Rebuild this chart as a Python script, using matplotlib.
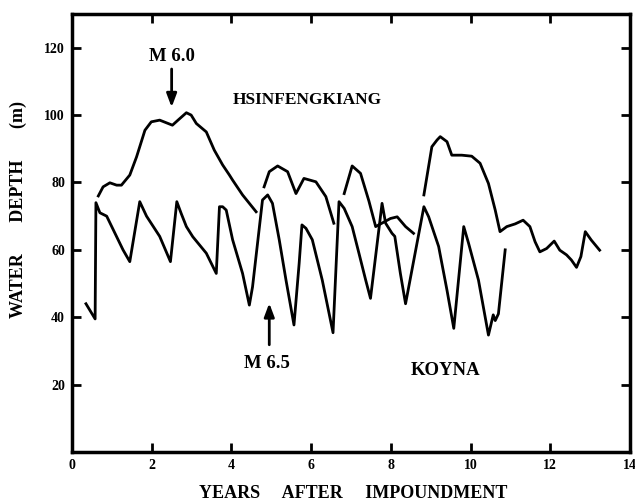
import numpy as np
import matplotlib
matplotlib.use('Agg')
import matplotlib.pyplot as plt

# Koyna reservoir water depth (m) vs years after impoundment
koyna_x = [0.35, 0.58, 0.60, 0.70, 0.87, 1.12, 1.28, 1.45, 1.70, 1.87, 2.20, 2.47,
           2.63, 2.74, 2.87, 3.03, 3.37, 3.62, 3.70, 3.78, 3.87, 4.03, 4.28, 4.45,
           4.53, 4.78, 4.91, 5.03, 5.20, 5.37, 5.57, 5.70, 5.77, 5.87, 6.03, 6.28,
           6.55, 6.70, 6.83, 7.03, 7.20, 7.37, 7.49, 7.78, 7.87, 8.03, 8.10, 8.24,
           8.37, 8.83, 8.95, 9.20, 9.41, 9.58, 9.83, 9.95, 10.20, 10.45, 10.57,
           10.62, 10.70, 10.87]
koyna_y = [44, 39.5, 74, 71, 70, 63.9, 60, 56.5, 74.3, 70, 64, 56.5,
           74.3, 70.8, 66.9, 63.9, 59, 53, 72.8, 72.8, 71.8, 63, 53, 43.6,
           49, 74.8, 76.3, 73.8, 63, 51, 37.7, 56, 67.4, 66.4, 63, 51,
           35.4, 74.3, 72.3, 66.9, 59, 51, 45.6, 73.8, 67.9, 64.9, 64, 53,
           44, 72.8, 69.8, 61, 48, 36.7, 66.9, 62, 51, 34.7, 40.7,
           39, 41, 60]

# Hsinfengkiang reservoir, nan marks the gaps in the record
hsin_x = [0.66, 0.78, 0.95, 1.12, 1.24, 1.45, 1.62, 1.83, 1.99, 2.20, 2.52, 2.66,
          2.87, 2.99, 3.12, 3.37, 3.57, 3.78, 3.95, 4.03, 4.28, 4.62, np.nan,
          4.82, 4.95, 5.16, 5.41, 5.62, 5.82, 6.12, 6.37, 6.57, np.nan,
          6.83, 7.03, 7.24, 7.45, 7.62, 7.99, 8.16, 8.37, 8.57, np.nan,
          8.83, 9.03, 9.16, 9.24, 9.41, 9.53, 9.78, 10.03, 10.24, 10.45, 10.62,
          10.74, 10.91, 11.12, 11.32, 11.49, 11.62, 11.74, 11.91, 12.10, 12.24,
          12.41, 12.53, 12.66, 12.77, 12.88, 13.03, 13.24]
hsin_y = [76, 78.7, 79.9, 79.2, 79.2, 82.2, 87.6, 95.5, 98, 98.5, 97, 98.5,
          100.7, 100, 97.5, 95, 89.6, 85.2, 82.2, 80.7, 76.3, 71.3, np.nan,
          78.7, 83.2, 84.9, 83.2, 76.7, 81.2, 80.2, 75.8, 67.9, np.nan,
          76.7, 84.9, 82.7, 74.5, 66.9, 69.3, 69.8, 66.9, 64.9, np.nan,
          76.3, 90.6, 92.6, 93.6, 92.1, 88.1, 88.1, 87.8, 85.7, 79.7, 71.8,
          65.4, 66.9, 67.7, 68.8, 66.9, 62.4, 59.4, 60.4, 62.6, 59.9,
          58.5, 57, 54.8, 58, 65.4, 62.9, 59.9]

xticks = [0, 2, 4, 6, 8, 10, 12, 14]
yticks = [20, 40, 60, 80, 100, 120]

plt.rcParams['font.family'] = ['Liberation Serif', 'DejaVu Serif']
plt.rcParams['font.weight'] = 'bold'

fig = plt.figure(figsize=(6.35, 5.04), dpi=100)
ax = fig.add_axes([0.1134, 0.1032, 0.8786, 0.8690])

ax.plot(koyna_x, koyna_y, color='black', lw=2.0, solid_joinstyle='round')
ax.plot(hsin_x, hsin_y, color='black', lw=2.0, solid_joinstyle='round')

ax.set_xlim(0, 14)
ax.set_ylim(0, 130)
ax.set_xticks(xticks)
ax.set_yticks(yticks)
ax.tick_params(direction='in', length=6.5, width=2, top=True, right=True,
               labelsize=10, pad=5)
for lab in ax.get_xticklabels() + ax.get_yticklabels():
    lab.set_fontweight('bold')
for s in ax.spines.values():
    s.set_linewidth(2.5)

ax.set_xlabel('YEARS     AFTER     IMPOUNDMENT', fontsize=13, fontweight='bold')
ax.set_ylabel('WATER       DEPTH       (m)', fontsize=13, fontweight='bold')
ax.xaxis.set_label_coords(0.504, -0.075)
ax.yaxis.set_label_coords(-0.08, 0.553)

# annotations
ax.text(2.5, 117.5, 'M 6.0', ha='center', va='center', fontsize=13.5, fontweight='bold')
ax.annotate('', xy=(2.5, 101.5), xytext=(2.5, 114.5),
            arrowprops=dict(arrowstyle='-|>,head_length=0.8,head_width=0.3',
                            color='black', lw=2))
ax.text(5.9, 104.5, 'HSINFENGKIANG', ha='center', va='center', fontsize=12.5,
        fontweight='bold')
ax.text(4.9, 26.4, 'M 6.5', ha='center', va='center', fontsize=13.5, fontweight='bold')
ax.annotate('', xy=(4.95, 45), xytext=(4.95, 31),
            arrowprops=dict(arrowstyle='-|>,head_length=0.8,head_width=0.3',
                            color='black', lw=2))
ax.text(9.37, 24.3, 'KOYNA', ha='center', va='center', fontsize=13.5, fontweight='bold')

fig.savefig('out.png', dpi=100)
